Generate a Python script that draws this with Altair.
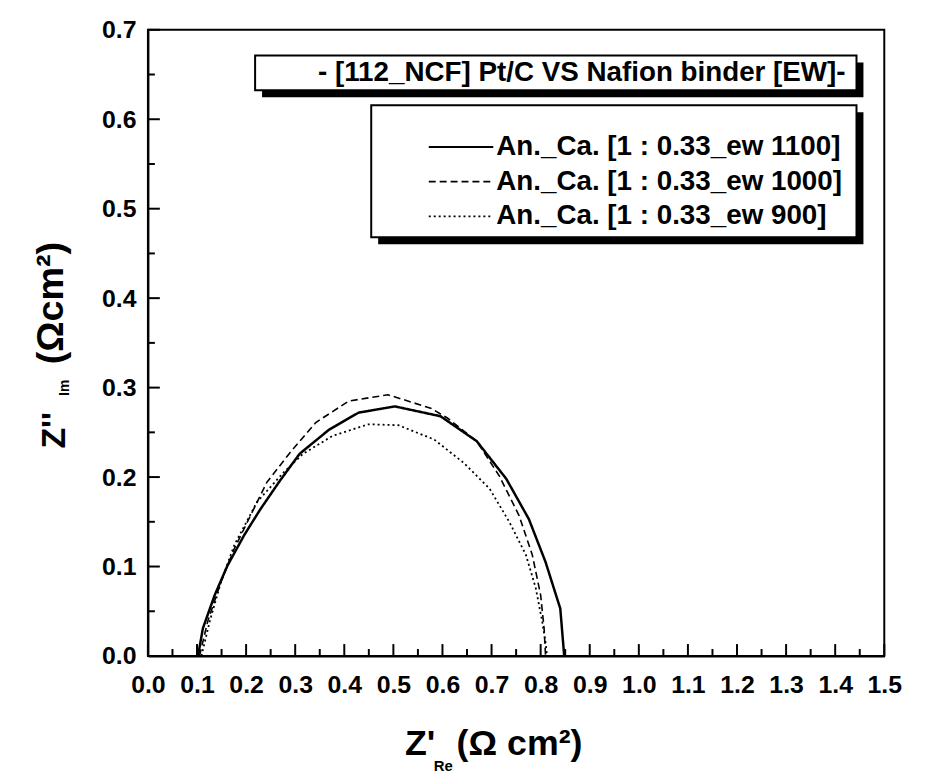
import altair as alt
import pandas as pd

FONT = "Liberation Sans"
W, H = 742, 631

# ---- data ----
series_names = ["An._Ca. [1 : 0.33_ew 1100]",
                "An._Ca. [1 : 0.33_ew 1000]",
                "An._Ca. [1 : 0.33_ew 900]"]

ew1100_x = [0.102, 0.112, 0.136, 0.162, 0.196, 0.229, 0.269, 0.309, 0.369, 0.429,
            0.503, 0.596, 0.670, 0.730, 0.776, 0.810, 0.840, 0.848]
ew1100_y = [0.000, 0.031, 0.068, 0.101, 0.135, 0.164, 0.196, 0.226, 0.253, 0.272,
            0.279, 0.268, 0.240, 0.198, 0.153, 0.105, 0.053, 0.000]

ew1000_x = [0.105, 0.122, 0.149, 0.176, 0.209, 0.242, 0.289, 0.342, 0.409, 0.489,
            0.576, 0.610, 0.670, 0.716, 0.756, 0.783, 0.800, 0.807, 0.810]
ew1000_y = [0.000, 0.039, 0.083, 0.120, 0.157, 0.194, 0.227, 0.261, 0.285, 0.292,
            0.277, 0.266, 0.240, 0.201, 0.157, 0.113, 0.068, 0.031, 0.000]

ew900_x = [0.109, 0.126, 0.149, 0.176, 0.222, 0.276, 0.316, 0.376, 0.449, 0.510,
           0.583, 0.643, 0.696, 0.736, 0.770, 0.790, 0.803, 0.810, 0.813]
ew900_y = [0.000, 0.039, 0.083, 0.124, 0.172, 0.205, 0.226, 0.246, 0.259, 0.258,
           0.242, 0.216, 0.187, 0.150, 0.113, 0.076, 0.039, 0.015, 0.000]

x_label_values = [0.0, 0.1, 0.2, 0.3, 0.4, 0.5, 0.6, 0.7, 0.8, 0.9, 1.0, 1.1, 1.2, 1.3, 1.4, 1.5]
x_minor_values = [0.05, 0.15, 0.25, 0.35, 0.45, 0.55, 0.65, 0.75, 0.85, 0.95, 1.05, 1.15, 1.25, 1.35, 1.45]
y_label_values = [0.0, 0.1, 0.2, 0.3, 0.4, 0.5, 0.6, 0.7]
y_minor_values = [0.05, 0.15, 0.25, 0.35, 0.45, 0.55, 0.65]

legend_title = "- [112_NCF] Pt/C VS Nafion binder [EW]-"

# ---- scales / axes ----
xs = alt.Scale(domain=[0, 1.5], nice=False, zero=False)
ys = alt.Scale(domain=[0, 0.7], nice=False, zero=False)
X_AXIS = alt.Axis(values=x_label_values, format=".1f", labelFont=FONT, labelFontSize=25,
                  labelFontWeight="bold", labelColor="black", ticks=False, grid=False,
                  domainColor="black", domainWidth=2, title=None, labelPadding=17,
                  labelFlush=False, labelOverlap=False)
Y_AXIS = alt.Axis(values=y_label_values, format=".1f", labelFont=FONT, labelFontSize=25,
                  labelFontWeight="bold", labelColor="black", ticks=False, grid=False,
                  domainColor="black", domainWidth=2, title=None, labelPadding=12,
                  labelFlush=False, labelOverlap=False)

one = pd.DataFrame({"a": [0]})


def curve(xv, yv, dash, width):
    df = pd.DataFrame({"x": xv, "y": yv, "i": list(range(len(xv)))})
    return alt.Chart(df).mark_line(color="black", strokeDash=dash, strokeWidth=width).encode(
        x=alt.X("x:Q", scale=xs, axis=X_AXIS),
        y=alt.Y("y:Q", scale=ys, axis=Y_AXIS),
        order="i:Q",
    )


def xticks(vals, length):
    df = pd.DataFrame({"x": vals})
    return alt.Chart(df).mark_rule(color="black", strokeWidth=2).encode(
        x=alt.X("x:Q", scale=xs, axis=X_AXIS),
        y=alt.value(H), y2=alt.value(H - length))


def yticks(vals, length):
    df = pd.DataFrame({"y": vals})
    return alt.Chart(df).mark_rule(color="black", strokeWidth=2).encode(
        y=alt.Y("y:Q", scale=ys, axis=Y_AXIS),
        x=alt.value(0), x2=alt.value(length))


def rect(x1, x2, y1, y2, fill, stroke=None):
    kw = dict(fill=fill)
    if stroke:
        kw.update(stroke=stroke, strokeWidth=2)
    return alt.Chart(one).mark_rect(**kw).encode(
        x=alt.value(x1), x2=alt.value(x2), y=alt.value(y1), y2=alt.value(y2))


def text(t, x, y, size, align="left", baseline="alphabetic", angle=0):
    kw = dict(text=t, font=FONT, fontSize=size, fontWeight="bold", color="black",
              align=align, baseline=baseline)
    if angle:
        kw["angle"] = angle
    return alt.Chart(one).mark_text(**kw).encode(x=alt.value(x), y=alt.value(y))


def sample(y, dash, width):
    return alt.Chart(one).mark_rule(color="black", strokeDash=dash, strokeWidth=width).encode(
        x=alt.value(283), x2=alt.value(348), y=alt.value(y))


dashes = [[1, 0], [7, 4], [2, 3]]
widths = [2.5, 1.6, 1.8]
entry_y = [118, 153, 188]

layers = [
    xticks(x_label_values, 12), xticks(x_minor_values, 7),
    yticks(y_label_values, 12), yticks(y_minor_values, 7),
    curve(ew1100_x, ew1100_y, dashes[0], widths[0]),
    curve(ew1000_x, ew1000_y, dashes[1], widths[1]),
    curve(ew900_x, ew900_y, dashes[2], widths[2]),
    # legend title box
    rect(115, 721, 33, 68, "black"),
    rect(108, 714, 26, 61, "white", "black"),
    text(legend_title, 703, 44, 28, align="right", baseline="middle"),
    # legend box
    rect(232, 721, 83, 216, "black"),
    rect(225, 714, 76, 209, "white", "black"),
]
for k in range(3):
    layers.append(sample(entry_y[k], dashes[k], widths[k] if k else 2))
    layers.append(text(series_names[k], 351, entry_y[k], 28, baseline="middle"))

# axis titles
layers += [
    text("Z''", -84, 422, 34, angle=270),
    text("Im", -80, 369, 14, angle=270),
    text("(\u03a9cm\u00b2)", -86, 337, 38, angle=270),
    text("Z'", 259, 731, 36),
    text("Re", 288, 747, 15),
    text("(\u03a9 cm\u00b2)", 311, 731, 36),
]

chart = alt.layer(*layers).properties(
    width=W, height=H,
    autosize=alt.AutoSizeParams(type="none"),
    padding={"left": 141, "top": 19, "right": 37, "bottom": 120},
).configure_view(stroke="black", strokeWidth=2)

chart.save("out.html", embed_options={"renderer": "svg", "actions": False})
